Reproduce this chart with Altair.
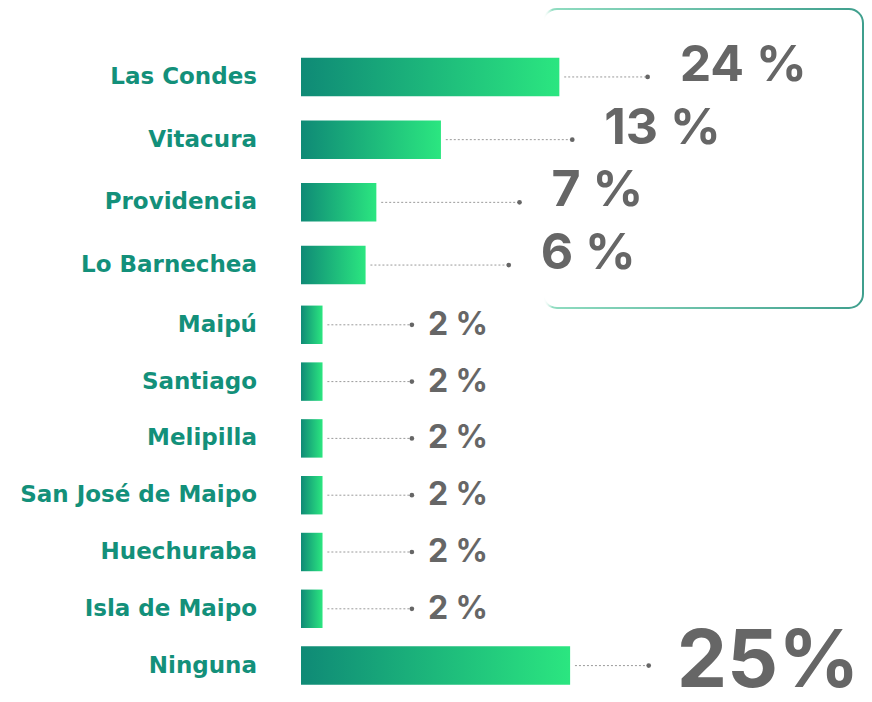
import altair as alt
import pandas as pd

categories = ["Las Condes", "Vitacura", "Providencia", "Lo Barnechea", "Maipú", "Santiago",
              "Melipilla", "San José de Maipo", "Huechuraba", "Isla de Maipo", "Ninguna"]
values = [24, 13, 7, 6, 2, 2, 2, 2, 2, 2, 25]
labels = ["24 %", "13 %", "7 %", "6 %", "2 %", "2 %", "2 %", "2 %", "2 %", "2 %", "25%"]
top_group = categories[:4]
bottom_group = categories[4:]

df = pd.DataFrame({"cat": categories, "value": values, "label": labels})

FONT = "Inter"
TEAL = "#13907a"
GREY = "#666666"
H_TOP = 250.8
H_ALL = 648.4

x_scale = alt.Scale(domain=[0, 52.3], nice=False, zero=True)

bar_grad = alt.Gradient(gradient="linear", x1=0, x2=1, y1=0, y2=0,
                        stops=[alt.GradientStop(color="#0f8a76", offset=0),
                               alt.GradientStop(color="#2be680", offset=1)])

box_grad = alt.Gradient(gradient="linear", x1=0, x2=1, y1=0, y2=0,
                        stops=[alt.GradientStop(color="rgba(255,255,255,0)", offset=0),
                               alt.GradientStop(color="#8fdcc0", offset=0.03),
                               alt.GradientStop(color="#3f9f8d", offset=1)])


def block(group, pad_inner, y_range):
    base = alt.Chart(df).transform_filter(
        alt.FieldOneOfPredicate(field="cat", oneOf=group)
    ).transform_calculate(
        tier="datum.cat == 'Ninguna' ? 'big' : (datum.value >= 5 ? 'mid' : 'small')",
        lead=("datum.cat == 'Ninguna' ? 7.3 : (datum.value >= 20 ? 8.2 : "
              "(datum.value >= 10 ? 12.2 : (datum.value >= 5 ? 13.3 : 8.3)))"),
    ).transform_calculate(
        start="datum.value + 0.45",
        dot="datum.value + datum.lead",
    )
    y_scale = alt.Scale(domain=group, range=y_range, paddingInner=pad_inner,
                        paddingOuter=pad_inner / 2)
    y_enc = alt.Y("cat:N", sort=group, scale=y_scale, axis=None)

    bars = base.mark_bar(color=bar_grad).encode(
        x=alt.X("value:Q", scale=x_scale, axis=None), y=y_enc)
    cat_labels = base.mark_text(
        align="right", baseline="middle", font="DejaVu Sans", fontWeight="bold",
        fontSize=23, color=TEAL, dx=-44
    ).encode(x=alt.value(0), y=y_enc, text="cat:N")
    leaders = base.mark_rule(color="#9a9a9a", strokeWidth=1, strokeDash=[2, 2]).encode(
        x=alt.X("start:Q", scale=x_scale), x2="dot:Q", y=y_enc)
    dots = base.mark_circle(color=GREY, size=22, opacity=1).encode(
        x=alt.X("dot:Q", scale=x_scale), y=y_enc)

    def text_layer(tier, size, dx, dy):
        return base.transform_filter(f"datum.tier == '{tier}'").mark_text(
            align="left", baseline="middle", font=FONT, fontWeight="bold",
            fontSize=size, color=GREY, dx=dx, dy=dy
        ).encode(x=alt.X("dot:Q", scale=x_scale), y=y_enc, text="label:N")

    texts = [text_layer("mid", 50, 32, -11), text_layer("small", 32, 16, 0),
             text_layer("big", 80, 28, -3)]
    return alt.layer(bars, cat_labels, leaders, dots, *texts)


box = alt.Chart(pd.DataFrame({"k": [0]})).mark_rect(
    fillOpacity=0, stroke=box_grad, strokeWidth=2, cornerRadius=14
).encode(x=alt.value(242), x2=alt.value(562), y=alt.value(-36.6), y2=alt.value(262.4))

top = block(top_group, 0.386, [0, H_TOP])
bottom = block(bottom_group, 0.323, [H_TOP, H_ALL])

chart = alt.layer(box, top, bottom).resolve_scale(y="independent").properties(
    width=563, height=H_ALL,
    autosize=alt.AutoSizeParams(type="none"),
    padding={"left": 293, "top": 37.6, "right": 0, "bottom": 0},
).configure_view(stroke=None)

chart.save("out.html", embed_options={"renderer": "svg", "actions": False})
